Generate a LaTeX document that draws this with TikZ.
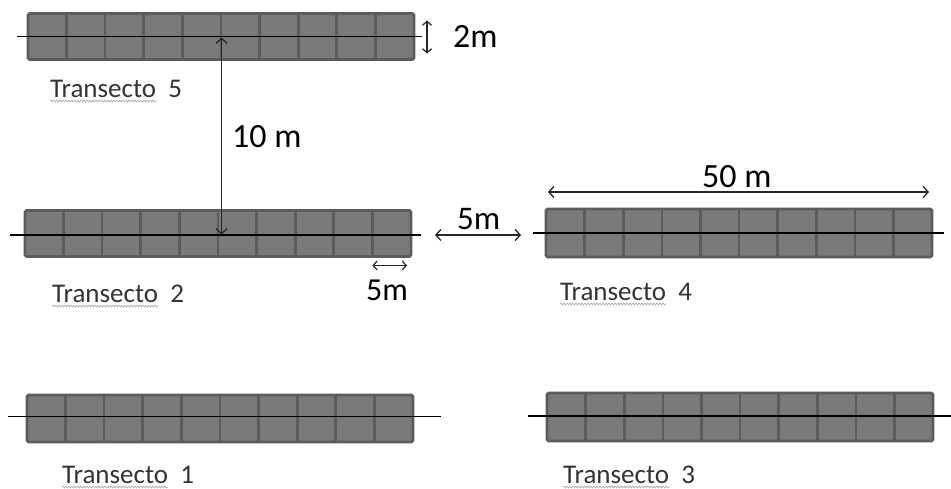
\documentclass[tikz,border=0pt]{standalone}
\usepackage{fontspec}
\setmainfont{Carlito}
\usetikzlibrary{arrows.meta,calc,decorations.pathmorphing}
\definecolor{cellfill}{HTML}{7A7A7A}
\definecolor{celledge}{HTML}{5C5C5C}
\definecolor{lbl}{HTML}{333333}
\begin{document}
\begin{tikzpicture}[x=1pt,y=-1pt,
  transect/.style={draw=celledge, fill=cellfill, line width=2.6pt, rounded corners=1.5pt,
    minimum width=386pt, minimum height=46pt, inner sep=0pt, outer sep=0pt},
  divider/.style={draw=celledge, line width=2.6pt},
  axis/.style={draw=black, line width=1.4pt},
  dim/.style={{Straight Barb[length=5pt,width=11pt]}-{Straight Barb[length=5pt,width=11pt]}, line width=1.3pt, draw=black!85},
  smalldim/.style={{Straight Barb[length=4pt,width=9pt]}-{Straight Barb[length=4pt,width=9pt]}, line width=1.2pt, draw=black!85},
  tlabel/.style={anchor=base west, inner sep=0pt, text=lbl, font=\fontsize{27}{32}\selectfont},
  big/.style={anchor=base west, inner sep=0pt, text=black, font=\fontsize{34}{40}\selectfont},
  wavy/.style={draw=gray!70, line width=0.6pt, decorate, decoration={snake, amplitude=1pt, segment length=3pt}}
]
\useasboundingbox (0,0) rectangle (951,488);

% transects
\node[transect] (t5) at (221,36.5) {};
\node[transect] (t2) at (218,233.5) {};
\node[transect, minimum height=48pt] (t4) at (739,233) {};
\node[transect, minimum height=47pt] (t1) at (220,418.5) {};
\node[transect, minimum height=48pt] (t3) at (740,417) {};

\foreach \t in {t5,t2,t4,t1,t3}{
  \foreach \k in {1,...,9}{
    \draw[divider] ($(\t.north west)!\k/10!(\t.north east)$) -- ($(\t.south west)!\k/10!(\t.south east)$);
  }
}

% centre lines
\draw[axis] ($(t5.west)+(-11,0)$) -- ($(t5.east)+(8,0)$);
\draw[axis] ($(t2.west)+(-15,1.5)$) -- ($(t2.east)+(10,1.5)$);
\draw[axis] ($(t4.west)+(-13,0)$) -- ($(t4.east)+(12,0)$);
\draw[axis] ($(t1.west)+(-19,-2)$) -- ($(t1.east)+(28,-2)$);
\draw[axis] ($(t3.west)+(-19,-1)$) -- ($(t3.east)+(19,-1)$);

% labels
\node[tlabel] (l5) at (50,97) {Transecto};
\node[tlabel] (n5) at ($(l5.base east)+(12,0)$) {5};
\node[tlabel] (l2) at (52,302) {Transecto};
\node[tlabel] (n2) at ($(l2.base east)+(12,0)$) {2};
\node[tlabel] (l4) at (560,300) {Transecto};
\node[tlabel] (n4) at ($(l4.base east)+(12,0)$) {4};
\node[tlabel] (l1) at (62,483) {Transecto};
\node[tlabel] (n1) at ($(l1.base east)+(12,0)$) {1};
\node[tlabel] (l3) at (563,483) {Transecto};
\node[tlabel] (n3) at ($(l3.base east)+(12,0)$) {3};
\foreach \l in {l5,l2,l4,l1,l3}{
  \draw[wavy] ($(\l.base west)+(0,4)$) -- ($(\l.base east)+(0,4)$);
}

% dimensions
\coordinate (v10a) at ($(t5.center)+(0.5,1)$);
\coordinate (v10b) at ($(t5.center |- t2.center)+(0.5,1)$);
\draw[dim] (v10a) -- (v10b);
\node[big] (d10) at (232,147) {10 m};

\coordinate (h2a) at ($(t5.north east)+(13,7)$);
\coordinate (h2b) at ($(t5.south east)+(13,-6)$);
\draw[smalldim] (h2a) -- (h2b);
\node[big] (d2) at (453,47) {2m};

\coordinate (g5a) at ($(t2.east)+(24,1.5)$);
\coordinate (g5b) at ($(t4.west)+(-25,2)$);
\draw[dim] (g5a) -- (g5b);
\node[big, font=\fontsize{33}{38}\selectfont] (dg5) at (457,229) {5m};

\coordinate (c5a) at ($(t2.south west)!0.9!(t2.south east)+(0,9)$);
\coordinate (c5b) at ($(t2.south east)+(-4,9)$);
\draw[smalldim] (c5a) -- (c5b);
\node[big, font=\fontsize{32}{37}\selectfont] (dc5) at (366,300) {5m};

\coordinate (w50a) at ($(t4.north west)+(2,-17)$);
\coordinate (w50b) at ($(t4.north east)+(-3,-17)$);
\draw[dim] (w50a) -- (w50b);
\node[big] (d50) at (702,187) {50 m};
\end{tikzpicture}
\end{document}
